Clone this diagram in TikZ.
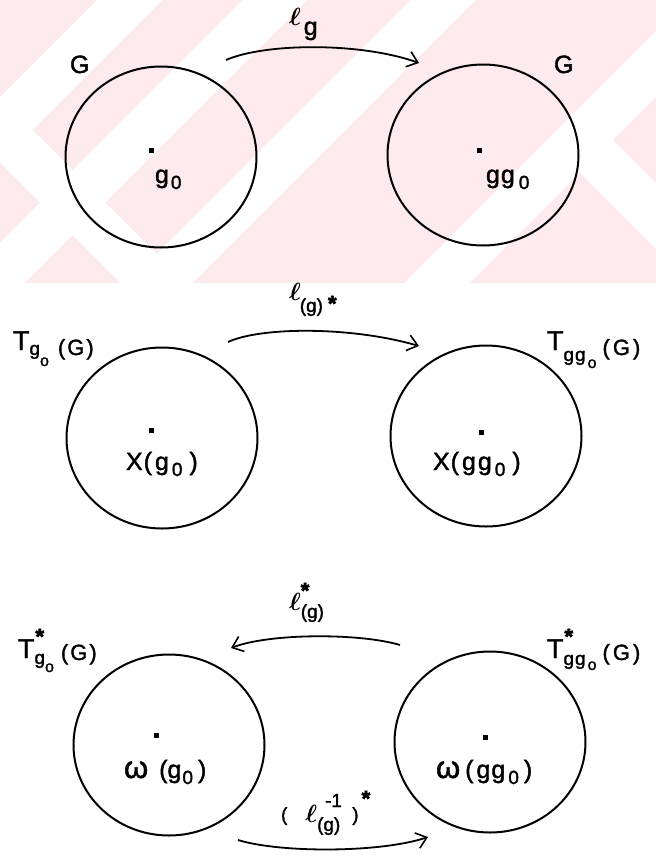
\documentclass[tikz,border=0pt]{standalone}
\usepackage{fontspec}
\setmainfont{Liberation Sans}[FakeBold=1.6]
\newfontfamily\starfont{Liberation Sans Bold}[FakeBold=3]
\usepackage{bm}
\usetikzlibrary{arrows.meta,shapes.geometric}
\definecolor{wpink}{RGB}{252,234,237}
\newcommand\fA{\fontsize{25}{25}\selectfont}
\newcommand\fB{\fontsize{19}{19}\selectfont}
\newcommand\fC{\fontsize{16}{16}\selectfont}
\newcommand\fG{\fontsize{22}{22}\selectfont}
\newcommand\fT{\fontsize{27}{27}\selectfont}
\newcommand\fL{\fontsize{30}{30}\selectfont}
\newcommand\fW{\fontsize{31}{31}\selectfont}
\newcommand\blob{{\starfont\fontsize{22}{22}\selectfont *}}
\newcommand\ellb{$\bm{\ell}$}
\begin{document}
\begin{tikzpicture}[x=1pt,y=-1pt,
  ring/.style={draw, ellipse, line width=2pt, minimum width=191pt, minimum height=181pt, inner sep=0pt},
  pt/.style={fill, rectangle, minimum size=5pt, inner sep=0pt},
  lab/.style={inner sep=0pt, outer sep=0pt, anchor=base west, font=\fA},
  arr/.style={line width=1.8pt, -{Straight Barb[length=10pt,width=16pt,line width=1.6pt]}},
  band/.style={white, line width=46pt}]
\useasboundingbox (0,0) rectangle (656,857);
\fill[white] (0,0) rectangle (656,857);
% watermark
\begin{scope}
\clip (0,0) rectangle (656,283);
\fill[wpink] (0,0) rectangle (656,283);
\draw[band] (160,-30) -- (0,130) -- (180,310);
\draw[band] (325,-50) -- (-50,325);
\draw[band] (493,-50) -- (110,333);
\draw[band] (770,-50) -- (390,330);
\draw[band] (565,125) -- (740,300);
\end{scope}
% circles
\node[ring] (c1l) at (161,157) {};
\node[ring] (c1r) at (483,155) {};
\node[ring] (c2l) at (162,438) {};
\node[ring] (c2r) at (486,436) {};
\node[ring] (c3l) at (169,745) {};
\node[ring] (c3r) at (490,742) {};
% points
\node[pt] (p1l) at (151,150) {};
\node[pt] (p1r) at (479,150) {};
\node[pt] (p2l) at (151,430) {};
\node[pt] (p2r) at (481,432) {};
\node[pt] (p3l) at (156,735) {};
\node[pt] (p3r) at (485,737) {};
% row 1 labels
\node[lab] (G1) at (70,73) {G};
\node[lab] (G2) at (554,73) {G};
\node[lab] (lg) at (289,25) {{\fL\ellb}\kern3pt\raisebox{-10pt}{g}};
\node[lab] (g0l) at (155,183) {g\kern2pt\raisebox{-6pt}{\fB 0}};
\node[lab] (g0r) at (486,183) {g\kern1pt g\kern4pt\raisebox{-6pt}{\fB 0}};
% row 2 labels
\node[lab] (T2l) at (13,350) {{\fT T}\raisebox{-5pt}{\fB g}\raisebox{-16pt}{\fC o}\kern9pt\raisebox{-5pt}{\fG (\kern2pt G\kern2pt)}};
\node[lab] (T2r) at (547,350) {{\fT T}\raisebox{-11pt}{\fB g\kern1pt g}\kern2pt\raisebox{-18pt}{\fC o}\kern6pt\raisebox{-5pt}{\fG (\kern3pt G\kern3pt)}};
\node[lab] (l2) at (289,300) {{\fL\ellb}\kern-1pt\raisebox{-12pt}{\fB (g)}\kern5pt\raisebox{-11pt}{\blob}};
\node[lab] (X2l) at (126,470) {X\kern1pt(\kern3pt g\kern3pt\raisebox{-6pt}{\fB 0}\kern7pt)};
\node[lab] (X2r) at (433,470) {X\kern1pt(\kern3pt g\kern2pt g\kern3pt\raisebox{-6pt}{\fB 0}\kern7pt)};
% row 3 labels
\node[lab] (T3l) at (18,658) {{\fT T}\rlap{\kern1pt\raisebox{14pt}{\blob}}\raisebox{-6pt}{\fB g}\raisebox{-14pt}{\fC o}\kern7pt\raisebox{-2pt}{\fG (\kern2pt G\kern2pt)}};
\node[lab] (T3r) at (547,658) {{\fT T}\rlap{\kern1pt\raisebox{14pt}{\blob}}\raisebox{-7pt}{\fB g\kern1pt g}\kern2pt\raisebox{-12pt}{\fC o}\kern6pt\raisebox{-2pt}{\fG (\kern3pt G\kern3pt)}};
\node[lab] (l3) at (289,610) {{\fL\ellb}\rlap{\raisebox{12pt}{\blob}}\raisebox{-8pt}{\fB (g)}};
\node[lab] (w3l) at (124,778) {{\fW ω}\kern11pt(g\kern1pt\raisebox{-6pt}{\fB 0}\kern5pt)};
\node[lab] (w3r) at (436,778) {{\fW ω}\kern5pt(\kern3pt g\kern1pt g\kern3pt\raisebox{-6pt}{\fB 0}\kern5pt)};
\node[lab] (l4) at (281,822) {\raisebox{1pt}{\fB(}\kern18pt{\fL\ellb}\rlap{\kern8pt\raisebox{15pt}{\fB -1}}\raisebox{-9pt}{\fB (g)}\kern12pt\raisebox{1pt}{\fB)}\kern3pt\raisebox{16pt}{\blob}};
% arrows
\coordinate (a1s) at (226,60);  \coordinate (a1e) at (419,63);
\coordinate (a2s) at (228,342); \coordinate (a2e) at (419,346);
\coordinate (a3s) at (400,645); \coordinate (a3e) at (231,648);
\coordinate (a4s) at (238,840); \coordinate (a4e) at (428,837);
\draw[arr] (a1s) .. controls (265,43) and (360,42) .. (a1e);
\draw[arr] (a2s) .. controls (260,327) and (350,326) .. (a2e);
\draw[arr] (a3s) .. controls (360,633) and (270,633) .. (a3e);
\draw[arr] (a4s) .. controls (280,853) and (380,853) .. (a4e);
\end{tikzpicture}
\end{document}
